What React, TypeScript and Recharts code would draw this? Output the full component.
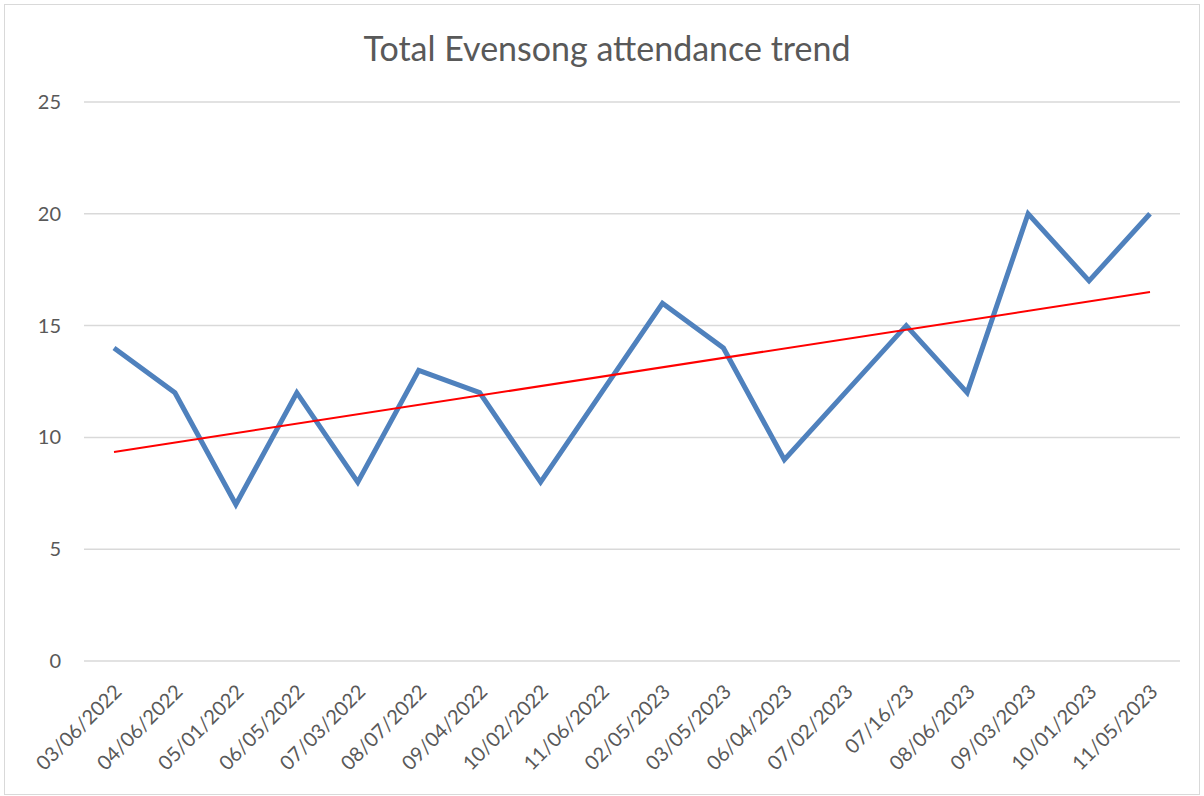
import { LineChart, Line, XAxis, YAxis, CartesianGrid } from 'recharts';

const DATES = [
  '03/06/2022', '04/06/2022', '05/01/2022', '06/05/2022', '07/03/2022', '08/07/2022',
  '09/04/2022', '10/02/2022', '11/06/2022', '02/05/2023', '03/05/2023', '06/04/2023',
  '07/02/2023', '07/16/23', '08/06/2023', '09/03/2023', '10/01/2023', '11/05/2023',
];
const ATTENDANCE = [14, 12, 7, 12, 8, 13, 12, 8, 12, 16, 14, 9, 12, 15, 12, 20, 17, 20];
// linear trendline endpoints
const TREND_ENDS = [9.35, 16.5];
const Y_TICKS = [0, 5, 10, 15, 20, 25];

const data = DATES.map((d, i) => ({
  date: d,
  total: ATTENDANCE[i],
  trend: i === 0 ? TREND_ENDS[0] : i === DATES.length - 1 ? TREND_ENDS[1] : null,
}));

const FONT = 'Lato, "Open Sans", sans-serif';
const TEXT = '#595959';

const XTick = ({ x, y, payload }: any) => (
  <text
    x={x + 9}
    y={y + 24}
    transform={`rotate(-45, ${x + 9}, ${y + 24})`}
    textAnchor="end"
    fontSize={20}
    fontFamily={FONT}
    fill={TEXT}
  >
    {payload.value}
  </text>
);

const YTick = ({ y, payload }: any) => (
  <text x={61} y={y} dy={7} textAnchor="end" fontSize={20} fontFamily={FONT} fill={TEXT}>
    {payload.value}
  </text>
);

export default function App() {
  return (
    <div style={{
      position: 'absolute', left: 0, top: 0, width: 1204, height: 796,
      background: '#fff',
    }}>
      <div style={{
        position: 'absolute', left: 4, top: 4, width: 1196, height: 791,
        border: '1px solid #d9d9d9', boxSizing: 'border-box',
      }} />
      <div style={{
        position: 'absolute', left: 0, top: 27, width: 1214, textAlign: 'center',
        fontFamily: FONT, fontSize: 34, color: TEXT,
      }}>
        Total Evensong attendance trend
      </div>
      <LineChart
        width={1204}
        height={796}
        data={data}
        margin={{ top: 102, right: 24, bottom: 0, left: 0 }}
        style={{ position: 'absolute', left: 0, top: 0 }}
      >
        <CartesianGrid vertical={false} stroke="#d9d9d9" strokeWidth={1.5} />
        <XAxis
          dataKey="date"
          axisLine={false}
          tickLine={false}
          interval={0}
          tick={<XTick />}
          height={135}
          padding={{ left: 30, right: 30 }}
        />
        <YAxis
          domain={[0, 25]}
          ticks={Y_TICKS}
          axisLine={false}
          tickLine={false}
          width={84}
          tick={<YTick />}
        />
        <Line
          dataKey="total"
          stroke="#4f81bd"
          strokeWidth={5}
          dot={false}
          isAnimationActive={false}
        />
        <Line
          dataKey="trend"
          stroke="#ff0000"
          strokeWidth={2}
          dot={false}
          connectNulls
          isAnimationActive={false}
        />
      </LineChart>
    </div>
  );
}
